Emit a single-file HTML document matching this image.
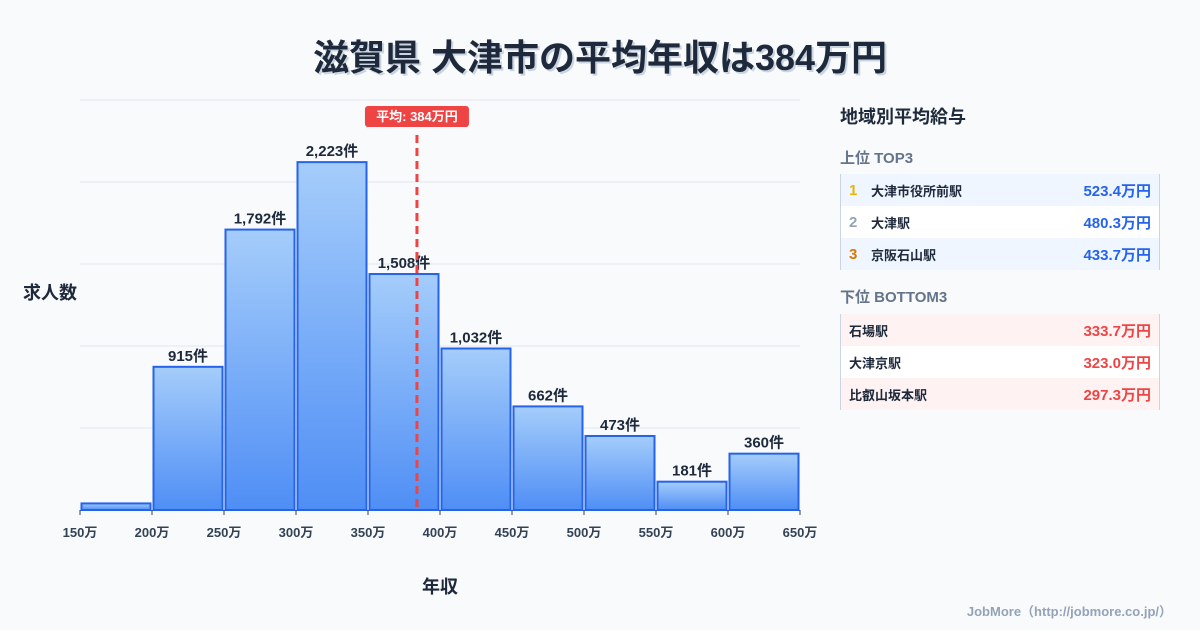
<!DOCTYPE html>
<html><head><meta charset="utf-8"><style>
body{margin:0;width:1200px;height:630px;background:#f8fafc;font-family:"Liberation Sans","Noto Sans CJK JP",sans-serif;overflow:hidden;position:relative;color:#1e293b}
.title{position:absolute;top:29px;left:0;width:1200px;text-align:center;font-size:36px;font-weight:bold;color:#1e293b;text-shadow:2px 2px 0 #cbd5e1}
.panel{position:absolute;left:840px;width:320px}
.ph{font-size:18px;font-weight:bold;color:#1e293b}
.sub{font-size:15px;font-weight:bold;color:#64748b}
.row{height:32px;display:flex;align-items:center;font-size:13px;font-weight:bold;border-right:1px solid #cbd5e1;border-left:1px solid #cbd5e1;box-sizing:border-box;padding:0 8px}
.rk{width:22px;font-size:15px}
.nm{flex:1;color:#1e293b}
.v{font-size:15px}
.foot{position:absolute;right:28px;bottom:10px;font-size:13px;font-weight:bold;color:#94a3b8}
</style></head><body>
<div class="title">滋賀県 大津市の平均年収は384万円</div>
<svg id="chart" width="830" height="630" style="position:absolute;left:0;top:0">
<defs><linearGradient id="g" x1="0" y1="0" x2="0" y2="1"><stop offset="0" stop-color="#a5cdfb"/><stop offset="1" stop-color="#4f8ef5"/></linearGradient></defs>
</svg>
<div class="panel" style="top:103px">
<div class="ph">地域別平均給与</div>
<div class="sub" style="margin-top:18px;margin-bottom:6px">上位 TOP3</div>
<div class="row" style="background:#eff6ff"><span class="rk" style="color:#eab308">1</span><span class="nm">大津市役所前駅</span><span class="v" style="color:#2563eb">523.4万円</span></div>
<div class="row" style="background:#fff"><span class="rk" style="color:#94a3b8">2</span><span class="nm">大津駅</span><span class="v" style="color:#2563eb">480.3万円</span></div>
<div class="row" style="background:#eff6ff"><span class="rk" style="color:#d97706">3</span><span class="nm">京阪石山駅</span><span class="v" style="color:#2563eb">433.7万円</span></div>
<div class="sub" style="margin-top:16px;margin-bottom:7px">下位 BOTTOM3</div>
<div class="row" style="background:#fef2f2"><span class="nm">石場駅</span><span class="v" style="color:#ef4444">333.7万円</span></div>
<div class="row" style="background:#fff"><span class="nm">大津京駅</span><span class="v" style="color:#ef4444">323.0万円</span></div>
<div class="row" style="background:#fef2f2"><span class="nm">比叡山坂本駅</span><span class="v" style="color:#ef4444">297.3万円</span></div>
</div>
<div class="foot">JobMore（http://jobmore.co.jp/）</div>
<script>
const binEdges=[150,200,250,300,350,400,450,500,550,600,650];
const counts=[42,915,1792,2223,1508,1032,662,473,181,360];
const showLabel=[false,true,true,true,true,true,true,true,true,true];
const meanValue=384;
const gridCount=5;
const NS="http://www.w3.org/2000/svg";
const svg=document.getElementById('chart');
const X0=80,X1=800,Y0=510,YTOP=100,YMAX=2620;
const xs=v=>X0+(v-binEdges[0])/(binEdges[binEdges.length-1]-binEdges[0])*(X1-X0);
const ys=v=>Y0-v/YMAX*(Y0-YTOP);
function mk(t,a,txt){const e=document.createElementNS(NS,t);for(const k in a)e.setAttribute(k,a[k]);if(txt!=null)e.textContent=txt;svg.appendChild(e);return e;}
for(let i=0;i<=gridCount;i++){const y=Y0-i*(Y0-YTOP)/gridCount;
const l=mk('line',{x1:X0,x2:X1,y1:y,y2:y,stroke:'#e2e8f0','stroke-width':1});

}
counts.forEach((c,i)=>{const xa=xs(binEdges[i])+1.5,xb=xs(binEdges[i+1])-1.5,y=ys(c);
const r=mk('rect',{x:xa,y:y,width:xb-xa,height:Y0-y,fill:'url(#g)',stroke:'#2563eb','stroke-width':2});


if(showLabel[i]){const t=mk('text',{x:(xa+xb)/2,y:y-6,'text-anchor':'middle','font-size':15,'font-weight':'bold',fill:'#1e293b'},c.toLocaleString()+'件');

}});
binEdges.forEach(v=>{const x=xs(v);
const tk=mk('line',{x1:x,x2:x,y1:Y0,y2:Y0+5,stroke:'#334155','stroke-width':1});


const t=mk('text',{x:x,y:Y0+27,'text-anchor':'middle','font-size':13,'font-weight':'bold',fill:'#334155'},v+'万');

});
const mx=xs(meanValue);
const ml=mk('line',{x1:mx,x2:mx,y1:135,y2:Y0,stroke:'#ef4444','stroke-width':3,'stroke-dasharray':'8,5'});


const mb=mk('rect',{x:mx-52,y:106,width:104,height:21,rx:3,fill:'#ef4444'});


const mt=mk('text',{x:mx,y:121,'text-anchor':'middle','font-size':13,'font-weight':'bold',fill:'#fff'},'平均: '+meanValue+'万円');


const yt=mk('text',{x:50,y:299,'text-anchor':'middle','font-size':18,'font-weight':'bold',fill:'#1e293b'},'求人数');


const xt=mk('text',{x:440,y:593,'text-anchor':'middle','font-size':18,'font-weight':'bold',fill:'#1e293b'},'年収');


</script>
</body></html>
